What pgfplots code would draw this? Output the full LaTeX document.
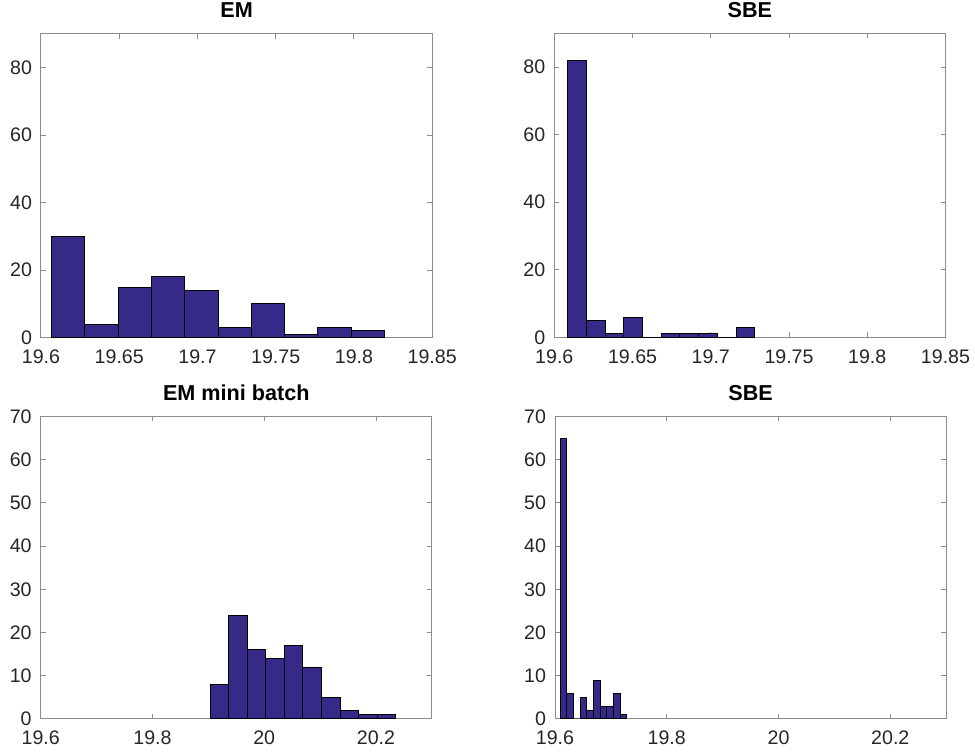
\documentclass[border=0pt]{standalone}
\usepackage{fontspec}
\setmainfont{Liberation Sans}
\usepackage{pgfplots}
\pgfplotsset{compat=1.18}

\definecolor{barfill}{RGB}{53,42,135}
\definecolor{axgray}{RGB}{140,140,140}
\definecolor{txtgray}{RGB}{38,38,38}

\pgfplotsset{
  histax/.style={
    scale only axis, width=195.6pt,
    axis line style={axgray, line width=0.5pt},
    tick style={axgray, line width=0.5pt},
    major tick length=2.5pt,
    tick align=inside,
    ymin=0,
    font=\fontsize{9.8}{11}\selectfont,
    /pgf/number format/assume math mode=true,
    tick label style={txtgray},
    title style={font=\fontsize{10.8}{12}\selectfont\bfseries, text=black, yshift=-1.5pt},
    xticklabel style={yshift=-2.5pt},
    yticklabel style={xshift=-1pt},
    anchor=south west,
  },
  histbar/.style={ybar interval, fill=barfill, draw=black, line width=0.5pt},
}

\begin{document}
\begin{tikzpicture}
\useasboundingbox (0,0) rectangle (487.5pt,377.5pt);

% top left
\begin{axis}[histax, at={(20.5pt,208.65pt)}, height=152pt,
  title={EM}, xmin=19.6, xmax=19.85, ymax=90,
  xtick={19.6,19.65,19.7,19.75,19.8,19.85}, ytick={0,20,40,60,80}]
\addplot[histbar] coordinates {
  (19.6068,30) (19.6281,4) (19.6494,15) (19.6706,18) (19.6919,14)
  (19.7132,3) (19.7345,10) (19.7558,1) (19.7770,3) (19.7983,2) (19.8196,2)
};
\end{axis}

% top right
\begin{axis}[histax, at={(277.15pt,208.85pt)}, height=152pt,
  title={SBE}, xmin=19.6, xmax=19.85, ymax=90,
  xtick={19.6,19.65,19.7,19.75,19.8,19.85}, ytick={0,20,40,60,80}]
\addplot[histbar] coordinates {
  (19.6086,82) (19.6206,5) (19.6325,1) (19.6445,6) (19.6564,0)
  (19.6684,1) (19.6803,1) (19.6923,1) (19.7042,0) (19.7162,3) (19.7281,3)
};
\end{axis}

% bottom left
\begin{axis}[histax, at={(20.35pt,18pt)}, height=151.3pt,
  title={EM mini batch}, xmin=19.6, xmax=20.3, ymax=70,
  xtick={19.6,19.8,20,20.2}, ytick={0,10,...,70}]
\addplot[histbar] coordinates {
  (19.9031,8) (19.9363,24) (19.9696,16) (20.0028,14) (20.0361,17)
  (20.0693,12) (20.1025,5) (20.1358,2) (20.1690,1) (20.2023,1) (20.2355,1)
};
\end{axis}

% bottom right
\begin{axis}[histax, at={(277.5pt,18pt)}, height=151.3pt,
  title={SBE}, xmin=19.6, xmax=20.3, ymax=70,
  xtick={19.6,19.8,20,20.2}, ytick={0,10,...,70}]
\addplot[histbar] coordinates {
  (19.6095,65) (19.6214,6) (19.6333,0) (19.6452,5) (19.6571,2)
  (19.6690,9) (19.6809,3) (19.6928,3) (19.7047,6) (19.7166,1) (19.7285,1)
};
\end{axis}
\end{tikzpicture}
\end{document}
